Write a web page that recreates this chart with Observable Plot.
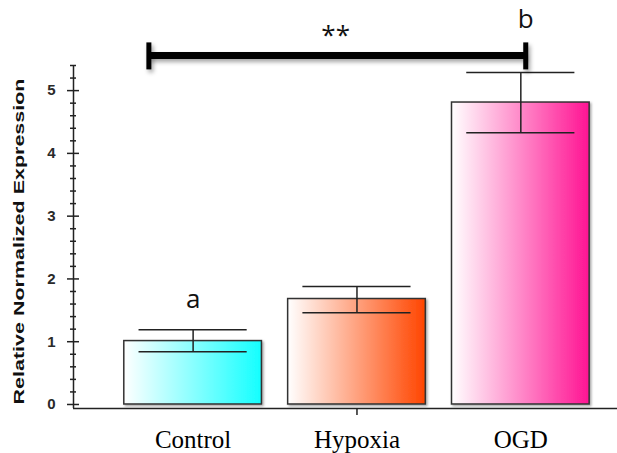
<!DOCTYPE html>
<html>
<head>
<meta charset="utf-8">
<script src="https://cdn.jsdelivr.net/npm/d3@7"></script>
<script src="https://cdn.jsdelivr.net/npm/@observablehq/plot@0.6"></script>
<style>
  html, body { margin: 0; padding: 0; background: #fff; }
  #chart svg { display: block; }
</style>
</head>
<body>
<div id="chart"></div>
<script>
// ---- data ----
const categories = ["Control", "Hypoxia", "OGD"];
const means   = [1.01, 1.68, 4.81];
const errLow  = [0.84, 1.46, 4.33];
const errHigh = [1.19, 1.88, 5.29];
const gradientEnds = ["#14ffff", "#ff4500", "#ff1493"];
const yMajorTicks = [0, 1, 2, 3, 4, 5];
const yMinorTicks = [0.2, 0.4, 0.6, 0.8, 1.2, 1.4, 1.6, 1.8, 2.2, 2.4, 2.6, 2.8,
                     3.2, 3.4, 3.6, 3.8, 4.2, 4.4, 4.6, 4.8, 5.2, 5.4];
const xTickCategories = ["Hypoxia"];
const groupLetters = [
  {category: "Control", text: "a", y: 1.53},
  {category: "OGD", text: "b", y: 6.0, dxUnits: 0.03}
];
const bracket = [{from: -0.27, to: 2.03, y: 5.56, capLow: 5.33, capHigh: 5.76, label: "**", labelX: 0.87, labelY: 5.74}];

const rows = categories.map((c, i) => ({category: c, i, mean: means[i], lo: errLow[i], hi: errHigh[i]}));
const idx = c => categories.indexOf(c);

const xDomain = [-0.73, 2.59];
const yDomain = [-0.064, 5.4];
const halfBar = 0.42, halfCap = 0.33;

const axisColor = "#222";
const sans = "'Liberation Sans', Arial, sans-serif";

const chart = Plot.plot({
  width: 617,
  height: 453,
  marginLeft: 73,
  marginRight: 0,
  marginTop: 65,
  marginBottom: 45,
  x: {domain: xDomain, axis: null},
  y: {domain: yDomain, axis: null},
  color: {type: "identity"},
  style: {background: "#fff", overflow: "visible"},
  marks: [
    // bars with gradient fill
    Plot.rectY(rows, {
      x1: d => d.i - halfBar, x2: d => d.i + halfBar, y1: 0, y2: "mean",
      fill: d => `url(#grad${d.i})`, stroke: "#333", strokeWidth: 1.5
    }),
    // error bars
    Plot.ruleX(rows, {x: "i", y1: "lo", y2: "hi", stroke: "#222", strokeWidth: 1.5}),
    Plot.ruleY(rows, {y: "hi", x1: d => d.i - halfCap, x2: d => d.i + halfCap, stroke: "#222", strokeWidth: 1.5}),
    Plot.ruleY(rows, {y: "lo", x1: d => d.i - halfCap, x2: d => d.i + halfCap, stroke: "#222", strokeWidth: 1.5}),
    // axes lines
    Plot.ruleY([yDomain[0]], {stroke: axisColor, strokeWidth: 1.5}),
    Plot.ruleX([xDomain[0]], {stroke: axisColor, strokeWidth: 1.5}),
    // y ticks crossing the axis
    Plot.ruleY(yMajorTicks, {y: d => d, x1: xDomain[0], x2: xDomain[0], insetLeft: -6, insetRight: -6, stroke: axisColor, strokeWidth: 1.5}),
    Plot.ruleY(yMinorTicks, {y: d => d, x1: xDomain[0], x2: xDomain[0], insetLeft: -3, insetRight: -3, stroke: axisColor, strokeWidth: 1.5}),
    // x tick
    Plot.ruleX(xTickCategories, {x: d => idx(d), y1: yDomain[0], y2: yDomain[0], insetBottom: -7, stroke: axisColor, strokeWidth: 1.5}),
    // y tick labels
    Plot.text(yMajorTicks, {
      y: d => d, text: d => String(d), frameAnchor: "left", textAnchor: "end", dx: -18,
      fontSize: 15, fontWeight: "bold", fontFamily: sans, fill: "#2a2a2a"
    }),
    // y axis title
    Plot.text(["Relative Normalized Expression"], {
      frameAnchor: "left", rotate: -90, dx: -49.5, dy: 4.5, lineAnchor: "bottom",
      textAnchor: "middle", fontSize: 15, fontWeight: "bold", fontFamily: sans, fill: "#111"
    }),
    // x tick labels
    Plot.text(categories, {
      x: d => idx(d), frameAnchor: "bottom", lineAnchor: "bottom", dy: 39,
      fontSize: 25, fontFamily: "'Liberation Serif', 'Times New Roman', serif", fill: "#000"
    }),
    // significance bracket
    Plot.ruleY(bracket, {y: "y", x1: "from", x2: "to", stroke: "#000", strokeWidth: 7, ariaLabel: () => "bracket"}),
    Plot.ruleX(bracket, {x: "from", y1: "capLow", y2: "capHigh", stroke: "#000", strokeWidth: 5, ariaLabel: () => "bracket"}),
    Plot.ruleX(bracket, {x: "to", y1: "capLow", y2: "capHigh", stroke: "#000", strokeWidth: 5, ariaLabel: () => "bracket"}),
    Plot.text(bracket, {x: "labelX", y: "labelY", text: "label", lineAnchor: "bottom",
      fontSize: 26, fontFamily: "'Open Sans', sans-serif", fill: "#111"}),
    // group letters
    Plot.text(groupLetters, {x: d => idx(d.category) + (d.dxUnits || 0), y: "y", text: "text", lineAnchor: "bottom",
      fontSize: 26, fontFamily: "'Open Sans', sans-serif", fill: "#111"})
  ]
});

// gradient and shadow definitions
const svg = d3.select(chart);
const defs = svg.insert("defs", ":first-child");
gradientEnds.forEach((c, i) => {
  const g = defs.append("linearGradient").attr("id", `grad${i}`)
    .attr("x1", "0%").attr("x2", "100%").attr("y1", "0%").attr("y2", "0%");
  g.append("stop").attr("offset", "0%").attr("stop-color", "#ffffff");
  g.append("stop").attr("offset", "100%").attr("stop-color", c);
});
const sh = defs.append("filter").attr("id", "barShadow")
  .attr("x", "-10%").attr("y", "-10%").attr("width", "130%").attr("height", "130%");
sh.append("feDropShadow").attr("dx", 1.5).attr("dy", 1.5).attr("stdDeviation", 1)
  .attr("flood-color", "#000").attr("flood-opacity", 0.35);
const sh2 = defs.append("filter").attr("id", "bracketShadow")
  .attr("filterUnits", "userSpaceOnUse")
  .attr("x", 0).attr("y", 0).attr("width", 617).attr("height", 453);
sh2.append("feDropShadow").attr("dx", 2).attr("dy", 3).attr("stdDeviation", 2)
  .attr("flood-color", "#000").attr("flood-opacity", 0.35);
svg.selectAll("rect").filter(function() { return this.getAttribute("fill") && this.getAttribute("fill").startsWith("url("); })
  .attr("filter", "url(#barShadow)");
svg.selectAll('line[aria-label="bracket"]').attr("filter", "url(#bracketShadow)");

// stretch the y title along its length like the reference
svg.selectAll("text").filter(function() { return this.textContent === "Relative Normalized Expression"; })
  .attr("textLength", 326).attr("lengthAdjust", "spacingAndGlyphs");

document.getElementById("chart").appendChild(chart);
</script>
</body>
</html>
